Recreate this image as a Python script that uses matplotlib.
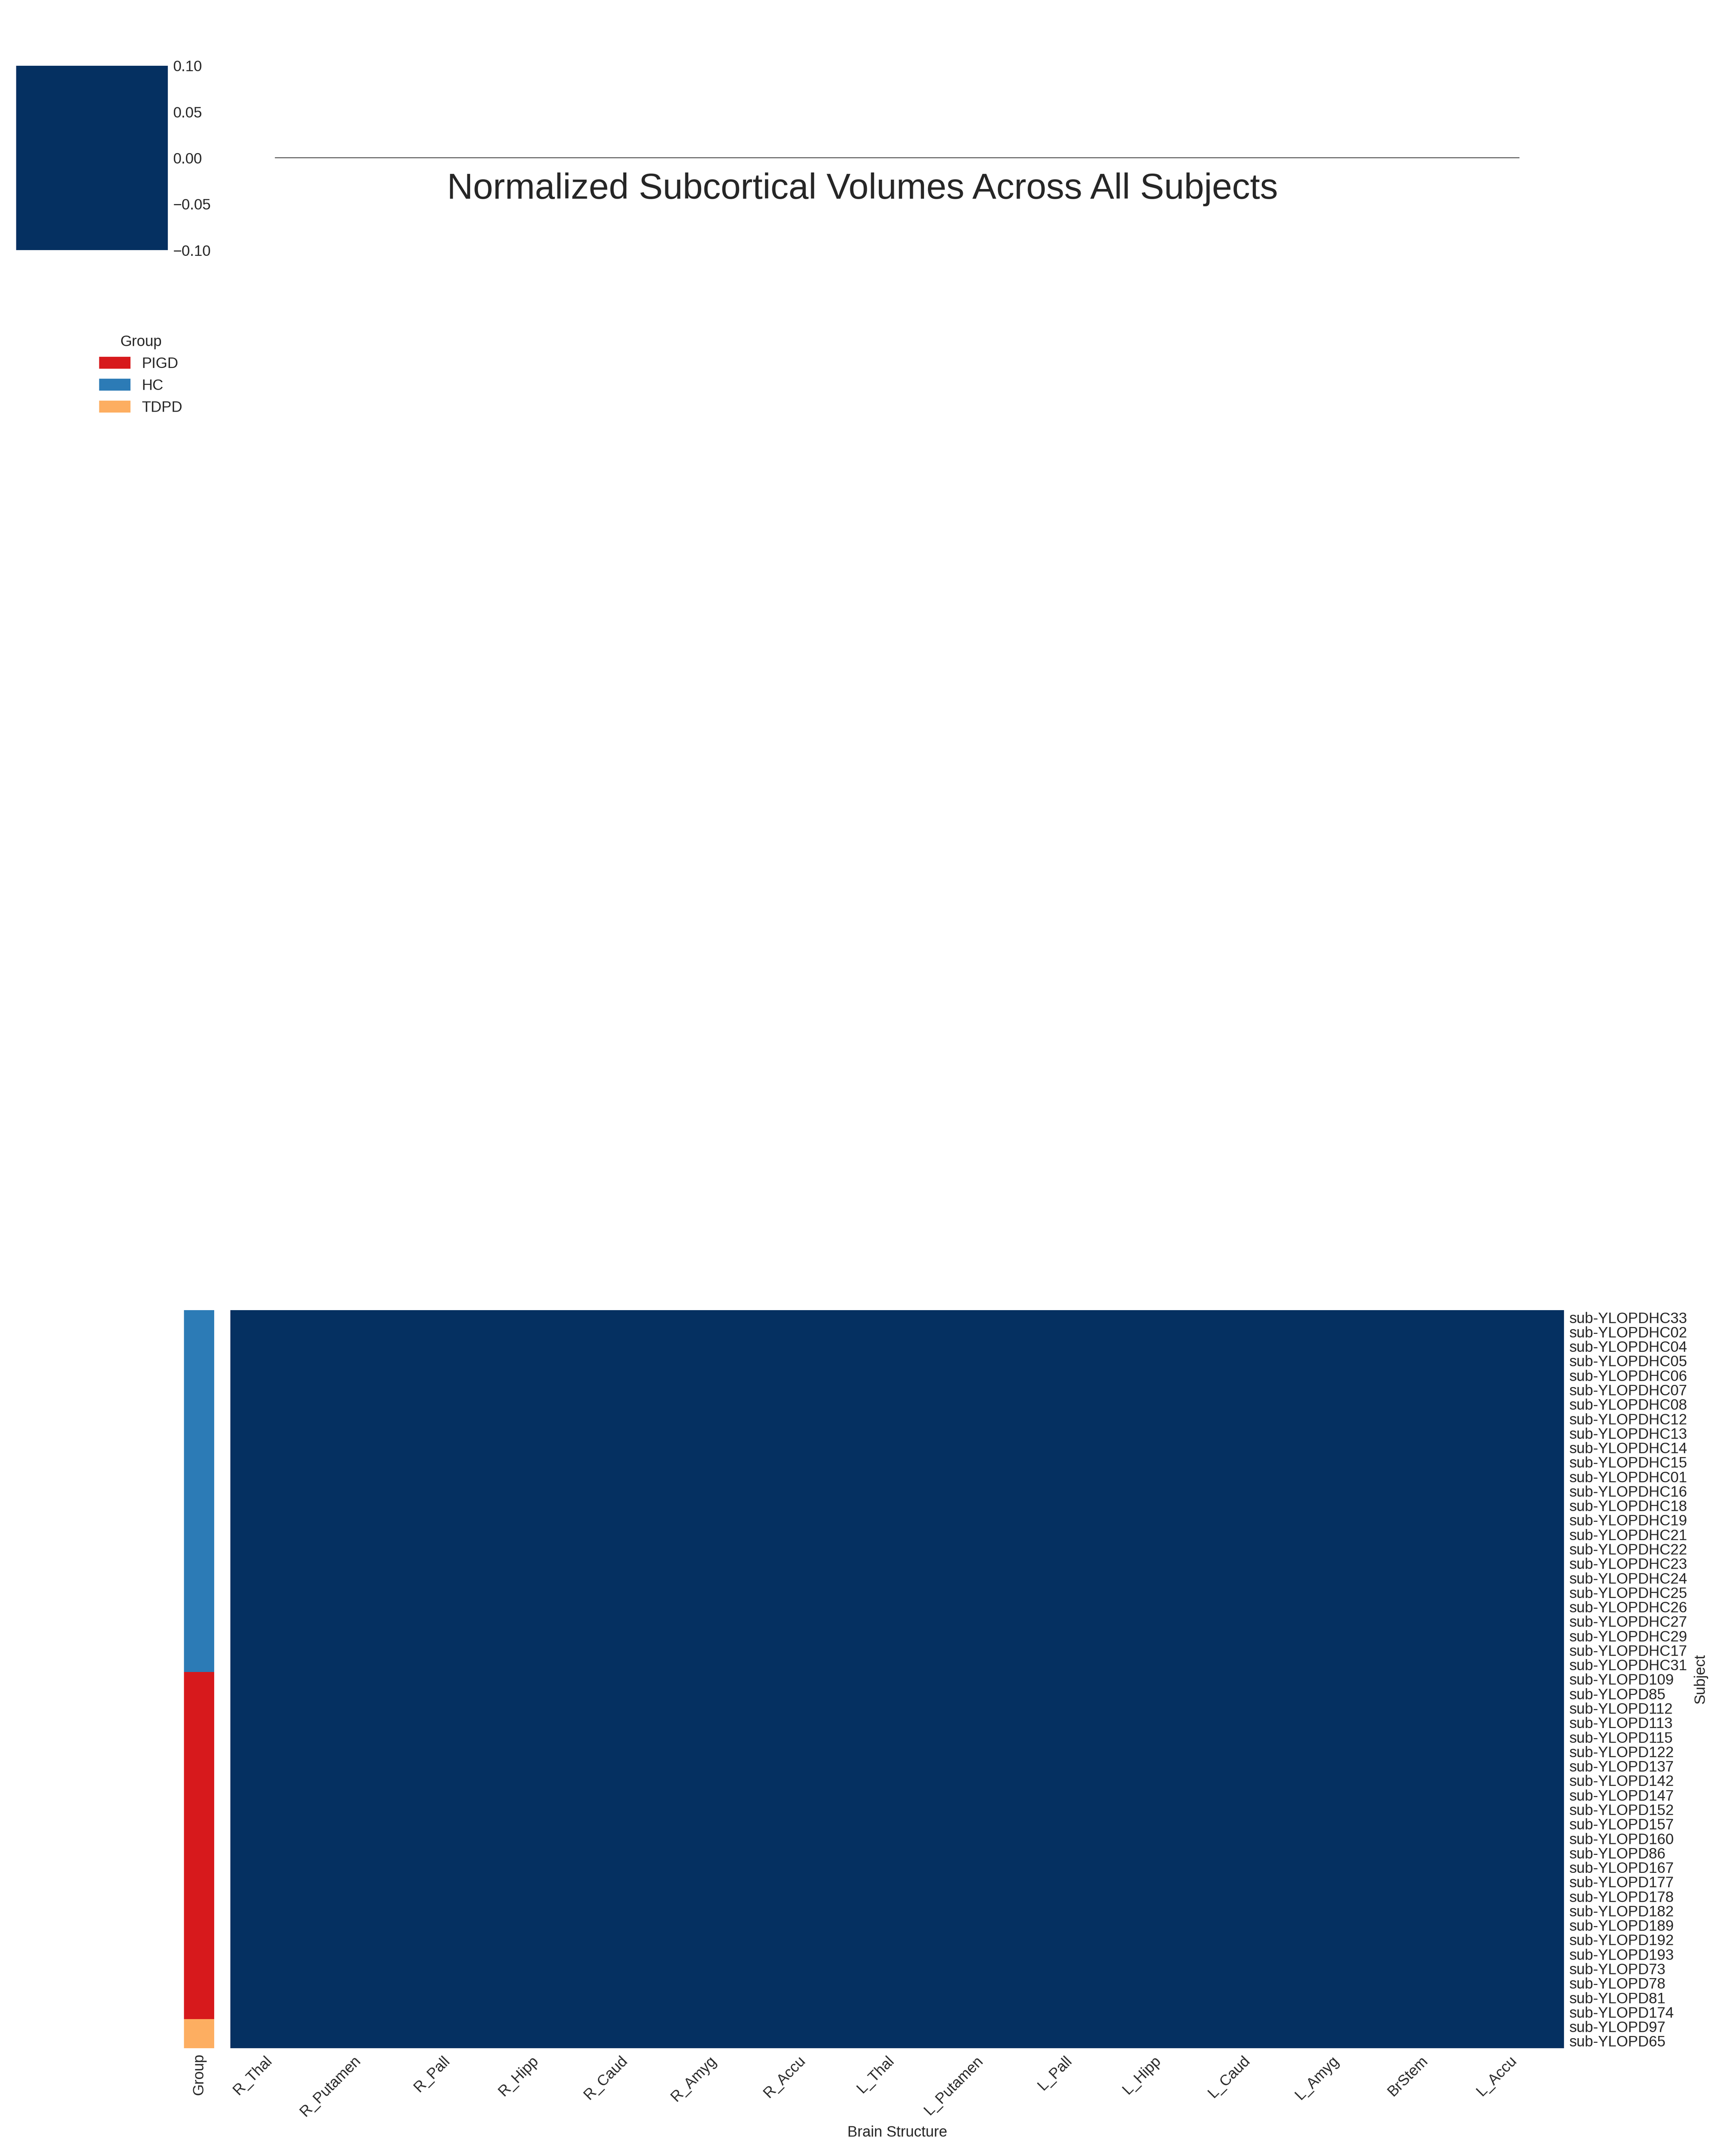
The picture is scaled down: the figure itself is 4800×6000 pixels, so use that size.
import numpy as np
import matplotlib
matplotlib.use("Agg")
import matplotlib.pyplot as plt
from matplotlib.colors import ListedColormap, Normalize
from matplotlib.patches import Patch

plt.rcParams['font.family'] = ['Liberation Sans', 'DejaVu Sans']
plt.rcParams['text.color'] = '.15'
plt.rcParams['axes.labelcolor'] = '.15'
plt.rcParams['xtick.color'] = '.15'
plt.rcParams['ytick.color'] = '.15'

# columns of the heatmap (brain structures, in dendrogram order)
structures = ['R_Thal', 'R_Putamen', 'R_Pall', 'R_Hipp', 'R_Caud', 'R_Amyg', 'R_Accu',
              'L_Thal', 'L_Putamen', 'L_Pall', 'L_Hipp', 'L_Caud', 'L_Amyg', 'BrStem', 'L_Accu']

# rows (subjects) and their group
subjects = ['sub-YLOPDHC33', 'sub-YLOPDHC02', 'sub-YLOPDHC04', 'sub-YLOPDHC05', 'sub-YLOPDHC06',
            'sub-YLOPDHC07', 'sub-YLOPDHC08', 'sub-YLOPDHC12', 'sub-YLOPDHC13', 'sub-YLOPDHC14',
            'sub-YLOPDHC15', 'sub-YLOPDHC01', 'sub-YLOPDHC16', 'sub-YLOPDHC18', 'sub-YLOPDHC19',
            'sub-YLOPDHC21', 'sub-YLOPDHC22', 'sub-YLOPDHC23', 'sub-YLOPDHC24', 'sub-YLOPDHC25',
            'sub-YLOPDHC26', 'sub-YLOPDHC27', 'sub-YLOPDHC29', 'sub-YLOPDHC17', 'sub-YLOPDHC31',
            'sub-YLOPD109', 'sub-YLOPD85', 'sub-YLOPD112', 'sub-YLOPD113', 'sub-YLOPD115',
            'sub-YLOPD122', 'sub-YLOPD137', 'sub-YLOPD142', 'sub-YLOPD147', 'sub-YLOPD152',
            'sub-YLOPD157', 'sub-YLOPD160', 'sub-YLOPD86', 'sub-YLOPD167', 'sub-YLOPD177',
            'sub-YLOPD178', 'sub-YLOPD182', 'sub-YLOPD189', 'sub-YLOPD192', 'sub-YLOPD193',
            'sub-YLOPD73', 'sub-YLOPD78', 'sub-YLOPD81', 'sub-YLOPD174', 'sub-YLOPD97',
            'sub-YLOPD65']
groups = ['HC'] * 25 + ['PIGD'] * 24 + ['TDPD'] * 2

group_names = ['PIGD', 'HC', 'TDPD']
group_colors = ['#d7191c', '#2c7bb6', '#fdae61']

# every cell in the picture has the same value (colorbar collapses around 0)
volumes = np.zeros((len(subjects), len(structures)))
# column dendrogram: all merges sit at height 0
merge_heights = [0.0] * (len(structures) - 1)

# diverging map re-centred on 0 over the data range (as seaborn does with center=0)
center = 0.0
vmin, vmax = volumes.min(), volumes.max()
vrange = max(vmax - center, center - vmin)
cnorm = Normalize(center - vrange, center + vrange)
cmin, cmax = cnorm([vmin, vmax])
base = plt.get_cmap('RdBu_r')
cmap = ListedColormap(base(np.linspace(cmin, cmax, 256)))

fig = plt.figure(figsize=(16, 20), dpi=300)
W, H = 4800, 6000

ax_heat = fig.add_axes([641 / W, 0.05, (4352 - 641) / W, 2054 / H])
ax_rc = fig.add_axes([512 / W, 0.05, 84 / W, 2054 / H])
ax_cb = fig.add_axes([45 / W, 1 - 696 / H, 422 / W, 513 / H])
ax_den = fig.add_axes([641 / W, 0.90, (4352 - 641) / W, 0.05366])

# heatmap
mesh = ax_heat.pcolormesh(volumes, cmap=cmap, vmin=vmin, vmax=vmax)
ax_heat.set_xlim(0, len(structures))
ax_heat.set_ylim(len(subjects), 0)
ax_heat.set_xticks(np.arange(len(structures)) + 0.5)
ax_heat.set_xticklabels(structures, rotation=45, ha='right', fontsize=10)
ax_heat.yaxis.tick_right()
ax_heat.set_yticks(np.arange(len(subjects)) + 0.5)
ax_heat.set_yticklabels(subjects, fontsize=10)
ax_heat.yaxis.set_label_position('right')
ax_heat.set_xlabel('Brain Structure', fontsize=10)
ax_heat.set_ylabel('Subject', fontsize=10)
ax_heat.tick_params(length=0)
for s in ax_heat.spines.values():
    s.set_visible(False)

# row colours
codes = np.array([group_names.index(g) for g in groups])[:, None]
ax_rc.pcolormesh(codes, cmap=ListedColormap(group_colors), vmin=-0.5, vmax=2.5)
ax_rc.set_ylim(len(subjects), 0)
ax_rc.set_xlim(0, 1)
ax_rc.set_xticks([0.5])
ax_rc.set_xticklabels(['Group'], rotation=90, fontsize=10)
ax_rc.set_yticks([])
ax_rc.tick_params(length=0)
for s in ax_rc.spines.values():
    s.set_visible(False)

# colorbar
cb = fig.colorbar(mesh, cax=ax_cb)
cb.outline.set_visible(False)
ax_cb.tick_params(length=0, labelsize=10)

# collapsed column dendrogram
leaves = np.arange(len(structures)) + 0.5
ax_den.hlines(merge_heights, leaves[:-1], leaves[1:], colors=(.2, .2, .2), linewidth=0.5)
ax_den.set_xlim(0, len(structures))
ax_den.set_ylim(-1, 1)
ax_den.axis('off')

fig.text(0.5, 1 - 553 / H, 'Normalized Subcortical Volumes Across All Subjects',
         ha='center', va='baseline', fontsize=24)

handles = [Patch(color=c, label=n) for n, c in zip(group_names, group_colors)]
fig.legend(handles=handles, title='Group', loc='upper left', frameon=False,
           bbox_to_anchor=(240 / W, 1 - 895 / H), fontsize=10, title_fontsize=10)

fig.savefig('out.png', dpi=300)
